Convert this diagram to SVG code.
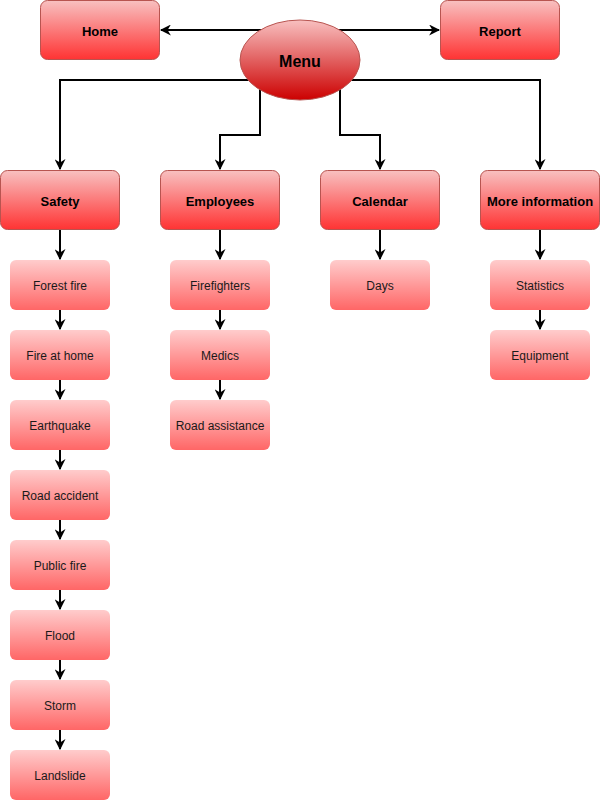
<svg xmlns="http://www.w3.org/2000/svg" width="601" height="801" viewBox="0 0 601 801">
<style>
.big{stroke:#b85450;stroke-width:1;fill:url(#gBig)}
.small{stroke:none;fill:url(#gSmall)}
.menu{stroke:#b85450;stroke-width:1;fill:url(#gMenu)}
.tb{font-family:"Liberation Sans",Arial,sans-serif;font-size:13px;font-weight:bold;fill:#000;text-anchor:middle;dominant-baseline:central}
.ts{font-family:"Liberation Sans",Arial,sans-serif;font-size:12px;fill:#1a1a1a;text-anchor:middle;dominant-baseline:central}
.tm{font-family:"Liberation Sans",Arial,sans-serif;font-size:16px;font-weight:bold;fill:#000;text-anchor:middle;dominant-baseline:central}
.c{fill:none;stroke:#000;stroke-width:2;marker-end:url(#arr)}
</style>
<defs>
<linearGradient id="gBig" x1="0" y1="0" x2="0" y2="1"><stop offset="0" stop-color="#f8c0c0"/><stop offset="1" stop-color="#ff3333"/></linearGradient>
<linearGradient id="gSmall" x1="0" y1="0" x2="0" y2="1"><stop offset="0" stop-color="#ffcccc"/><stop offset="1" stop-color="#ff6666"/></linearGradient>
<linearGradient id="gMenu" x1="0" y1="0" x2="0" y2="1"><stop offset="0" stop-color="#f8c0c0"/><stop offset="1" stop-color="#cc0000"/></linearGradient>
<marker id="arr" viewBox="0 0 10 10" refX="9" refY="5" markerWidth="5.5" markerHeight="5.5" orient="auto" markerUnits="strokeWidth"><path d="M0,0 L10,5 L0,10 L3,5 Z" fill="#000"/></marker>
</defs>
<g id="connectors">
<path class="c" d="M262,30 H161"/>
<path class="c" d="M338,30 H439"/>
<path class="c" d="M255,80 H60 V169"/>
<path class="c" d="M260,85 V135 H220 V169"/>
<path class="c" d="M340,85 V135 H380 V169"/>
<path class="c" d="M345,80 H540 V169"/>
<path class="c" d="M60,230 V259"/>
<path class="c" d="M220,230 V259"/>
<path class="c" d="M380,230 V259"/>
<path class="c" d="M540,230 V259"/>
<path class="c" d="M60,310 V329"/>
<path class="c" d="M60,380 V399"/>
<path class="c" d="M60,450 V469"/>
<path class="c" d="M60,520 V539"/>
<path class="c" d="M60,590 V609"/>
<path class="c" d="M60,660 V679"/>
<path class="c" d="M60,730 V749"/>
<path class="c" d="M220,310 V329"/>
<path class="c" d="M220,380 V399"/>
<path class="c" d="M540,310 V329"/>
</g>
<g id="home"><rect class="big" x="40.5" y="0.5" width="119" height="59" rx="7"/><text class="tb" x="100" y="31.5">Home</text></g>
<g id="report"><rect class="big" x="440.5" y="0.5" width="119" height="59" rx="7"/><text class="tb" x="500" y="31.5">Report</text></g>
<g id="menu"><ellipse class="menu" cx="300" cy="60" rx="60" ry="40"/><text class="tm" x="300" y="61">Menu</text></g>
<g id="safety"><rect class="big" x="0.5" y="170.5" width="119" height="59" rx="7"/><text class="tb" x="60" y="201.5">Safety</text></g>
<g id="employees"><rect class="big" x="160.5" y="170.5" width="119" height="59" rx="7"/><text class="tb" x="220" y="201.5">Employees</text></g>
<g id="calendar"><rect class="big" x="320.5" y="170.5" width="119" height="59" rx="7"/><text class="tb" x="380" y="201.5">Calendar</text></g>
<g id="moreinfo"><rect class="big" x="480.5" y="170.5" width="119" height="59" rx="7"/><text class="tb" x="540" y="201.5">More information</text></g>
<g id="forestfire"><rect class="small" x="10" y="260" width="100" height="50" rx="6"/><text class="ts" x="60" y="286">Forest fire</text></g>
<g id="fireathome"><rect class="small" x="10" y="330" width="100" height="50" rx="6"/><text class="ts" x="60" y="356">Fire at home</text></g>
<g id="earthquake"><rect class="small" x="10" y="400" width="100" height="50" rx="6"/><text class="ts" x="60" y="426">Earthquake</text></g>
<g id="roadaccident"><rect class="small" x="10" y="470" width="100" height="50" rx="6"/><text class="ts" x="60" y="496">Road accident</text></g>
<g id="publicfire"><rect class="small" x="10" y="540" width="100" height="50" rx="6"/><text class="ts" x="60" y="566">Public fire</text></g>
<g id="flood"><rect class="small" x="10" y="610" width="100" height="50" rx="6"/><text class="ts" x="60" y="636">Flood</text></g>
<g id="storm"><rect class="small" x="10" y="680" width="100" height="50" rx="6"/><text class="ts" x="60" y="706">Storm</text></g>
<g id="landslide"><rect class="small" x="10" y="750" width="100" height="50" rx="6"/><text class="ts" x="60" y="776">Landslide</text></g>
<g id="firefighters"><rect class="small" x="170" y="260" width="100" height="50" rx="6"/><text class="ts" x="220" y="286">Firefighters</text></g>
<g id="medics"><rect class="small" x="170" y="330" width="100" height="50" rx="6"/><text class="ts" x="220" y="356">Medics</text></g>
<g id="roadassistance"><rect class="small" x="170" y="400" width="100" height="50" rx="6"/><text class="ts" x="220" y="426">Road assistance</text></g>
<g id="days"><rect class="small" x="330" y="260" width="100" height="50" rx="6"/><text class="ts" x="380" y="286">Days</text></g>
<g id="statistics"><rect class="small" x="490" y="260" width="100" height="50" rx="6"/><text class="ts" x="540" y="286">Statistics</text></g>
<g id="equipment"><rect class="small" x="490" y="330" width="100" height="50" rx="6"/><text class="ts" x="540" y="356">Equipment</text></g>
</svg>
